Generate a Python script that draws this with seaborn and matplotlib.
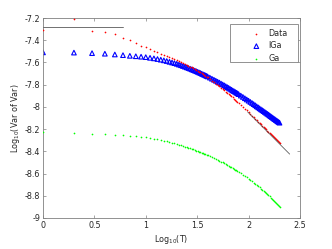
import numpy as np
import pandas as pd
import matplotlib
matplotlib.use('Agg')
import matplotlib.pyplot as plt
from matplotlib.patches import Rectangle
import seaborn as sns

# T grid: every T up to 40, then every 2nd up to 80, then every 4th up to 200
T = np.r_[1:41, 42:81:2, 84:201:4]

data_y = [-7.308, -7.210, -7.315, -7.326, -7.344, -7.377, -7.398, -7.425, -7.450, -7.464,
          -7.479, -7.495, -7.509, -7.521, -7.532, -7.543, -7.552, -7.561, -7.570, -7.578,
          -7.586, -7.594, -7.604, -7.613, -7.621, -7.630, -7.638, -7.645, -7.653, -7.660,
          -7.667, -7.675, -7.683, -7.690, -7.698, -7.706, -7.713, -7.720, -7.727, -7.734,
          -7.749, -7.763, -7.777, -7.790, -7.802, -7.815, -7.827, -7.839, -7.850, -7.862,
          -7.873, -7.884, -7.894, -7.905, -7.915, -7.925, -7.935, -7.945, -7.954, -7.963,
          -7.981, -7.999, -8.016, -8.032, -8.048, -8.063, -8.078, -8.092, -8.106, -8.119,
          -8.132, -8.144, -8.157, -8.169, -8.180, -8.191, -8.202, -8.213, -8.223, -8.233,
          -8.243, -8.252, -8.262, -8.271, -8.280, -8.289, -8.297, -8.305, -8.313, -8.321]

iga_y = [-7.509, -7.511, -7.516, -7.521, -7.528, -7.534, -7.540, -7.544, -7.548, -7.552,
         -7.558, -7.563, -7.569, -7.575, -7.581, -7.587, -7.594, -7.600, -7.606, -7.612,
         -7.619, -7.625, -7.632, -7.638, -7.644, -7.650, -7.656, -7.662, -7.668, -7.673,
         -7.679, -7.684, -7.690, -7.695, -7.701, -7.706, -7.711, -7.716, -7.721, -7.726,
         -7.736, -7.746, -7.755, -7.764, -7.773, -7.781, -7.790, -7.798, -7.806, -7.814,
         -7.822, -7.829, -7.837, -7.845, -7.852, -7.858, -7.865, -7.872, -7.878, -7.885,
         -7.898, -7.910, -7.922, -7.933, -7.944, -7.955, -7.965, -7.975, -7.985, -7.995,
         -8.004, -8.013, -8.022, -8.030, -8.038, -8.046, -8.054, -8.062, -8.069, -8.077,
         -8.084, -8.091, -8.098, -8.105, -8.111, -8.118, -8.124, -8.130, -8.136, -8.142]

ga_y = [-8.224, -8.233, -8.240, -8.245, -8.250, -8.255, -8.260, -8.264, -8.269, -8.274,
        -8.280, -8.286, -8.292, -8.298, -8.304, -8.310, -8.316, -8.323, -8.329, -8.334,
        -8.340, -8.346, -8.352, -8.357, -8.362, -8.368, -8.373, -8.378, -8.383, -8.388,
        -8.393, -8.398, -8.403, -8.408, -8.413, -8.417, -8.422, -8.426, -8.431, -8.435,
        -8.444, -8.452, -8.461, -8.469, -8.477, -8.485, -8.493, -8.500, -8.508, -8.515,
        -8.522, -8.529, -8.537, -8.544, -8.551, -8.558, -8.565, -8.571, -8.578, -8.584,
        -8.597, -8.610, -8.623, -8.634, -8.646, -8.658, -8.670, -8.682, -8.693, -8.704,
        -8.714, -8.725, -8.736, -8.747, -8.757, -8.767, -8.777, -8.787, -8.796, -8.806,
        -8.816, -8.826, -8.836, -8.846, -8.854, -8.864, -8.872, -8.881, -8.889, -8.897]

# reference lines (start/end in log10 T, value)
short_x = [0.0, 0.78]
short_y = [-7.285, -7.285]
fit_x = [1.99, 2.40]
fit_y = [-8.044, -8.425]

df = pd.DataFrame({'logT': np.log10(T), 'Data': data_y, 'IGa': iga_y, 'Ga': ga_y})

sns.set_style('ticks')
plt.rcParams['font.family'] = ['DejaVu Sans']
plt.rcParams['font.size'] = 5.5

fig = plt.figure(figsize=(3.32, 2.49), dpi=100)
ax = fig.add_axes([0.1295, 0.1245, 0.774, 0.803])

sns.scatterplot(data=df, x='logT', y='Data', ax=ax, color='red', marker='.',
                s=6, linewidth=0, label='Data', zorder=3)
sns.scatterplot(data=df, x='logT', y='IGa', ax=ax, marker='^', s=11,
                facecolor='none', edgecolor='blue', linewidth=0.8, label='IGa', zorder=2)
sns.scatterplot(data=df, x='logT', y='Ga', ax=ax, color='#00ff00', marker='.',
                s=6, linewidth=0, label='Ga', zorder=3)
sns.lineplot(x=short_x, y=short_y, ax=ax, color='0.35', linewidth=0.6, zorder=4)
sns.lineplot(x=fit_x, y=fit_y, ax=ax, color='0.25', linewidth=0.5, zorder=4)

ax.set_xlim(0, 2.5)
ax.set_ylim(-9, -7.2)
ax.set_xticks(np.arange(0, 2.51, 0.5))
ax.set_yticks(np.arange(-9, -7.19, 0.2))
ax.xaxis.set_major_formatter(matplotlib.ticker.FormatStrFormatter('%g'))
ax.yaxis.set_major_formatter(matplotlib.ticker.FuncFormatter(lambda v, p: '%g' % round(v, 1)))
ax.tick_params(direction='in', length=2, width=0.5, colors='0.5', labelcolor='0.15',
               top=True, right=True, labelsize=5.8, pad=2)
for sp in ax.spines.values():
    sp.set_visible(True)
    sp.set_color('0.5')
    sp.set_linewidth(0.6)

ax.set_xlabel('Log$_{10}$(T)', fontsize=5.8, color='0.15', labelpad=2)
ax.set_ylabel('Log$_{10}$(Var of Var)', fontsize=5.8, color='0.15', labelpad=2)

# legend entries without frame, plus a wide MATLAB-style box behind them
leg = ax.legend(loc='upper left', bbox_to_anchor=(0.799, 0.947), fontsize=5.8,
                frameon=False, borderpad=0, borderaxespad=0, handlelength=2.0,
                handletextpad=0.5, labelspacing=0.45)
leg.set_zorder(6)
ax.add_patch(Rectangle((0.728, 0.78), 0.264, 0.19, transform=ax.transAxes,
                       facecolor='white', edgecolor='0.5', linewidth=0.6, zorder=5))

fig.savefig('out.png', dpi=100)
